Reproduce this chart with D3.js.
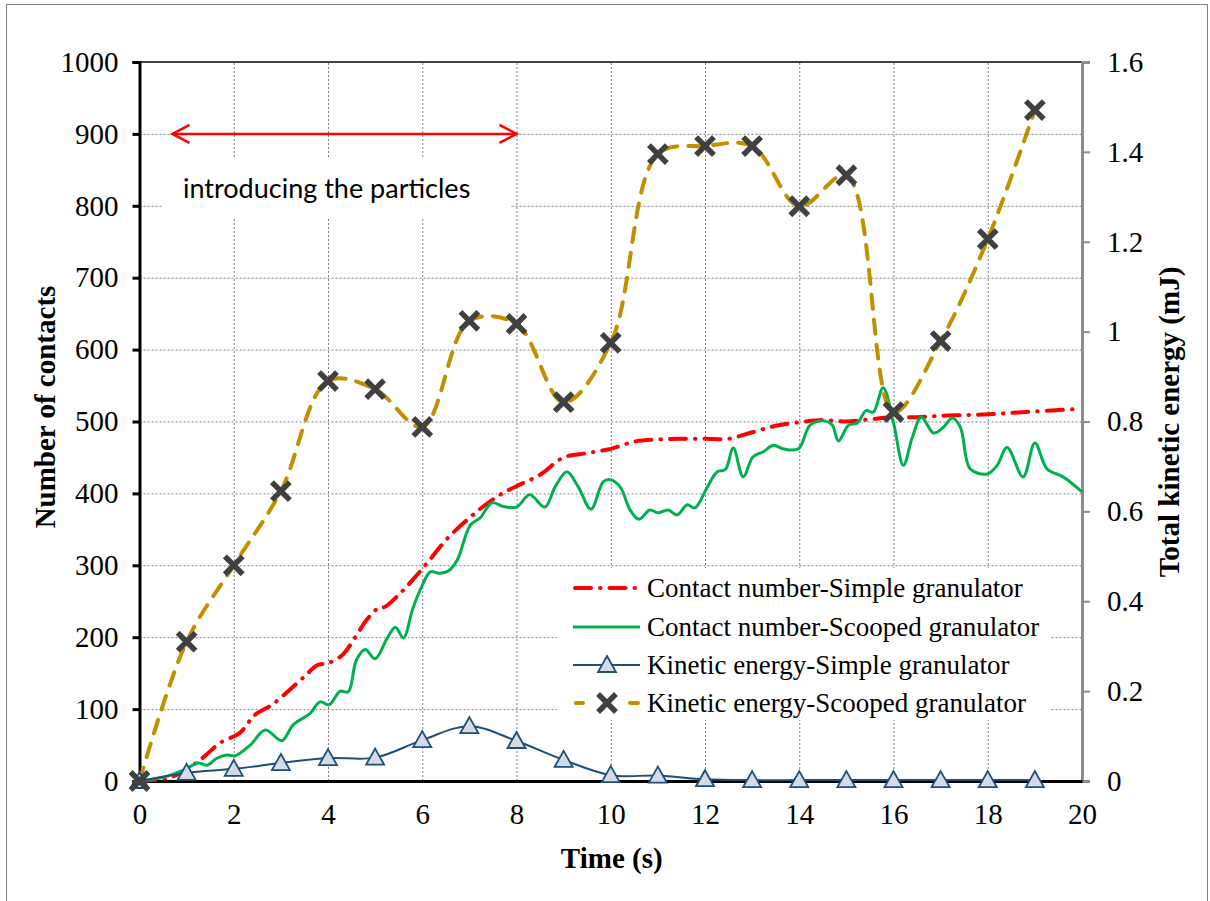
<!DOCTYPE html>
<html><head><meta charset="utf-8">
<script src="https://cdn.jsdelivr.net/npm/d3@7"></script>
<style>body{margin:0;background:#fff} svg{display:block}</style>
</head><body>
<svg id="chart" width="1210" height="901"></svg>
<script>
// ---------- data ----------
const timeTicks = [0,2,4,6,8,10,12,14,16,18,20];
const contactTicks = [0,100,200,300,400,500,600,700,800,900,1000];
const energyTicks = [0,0.2,0.4,0.6,0.8,1,1.2,1.4,1.6];

const seriesNames = [
  "Contact number-Simple granulator",
  "Contact number-Scooped granulator",
  "Kinetic energy-Simple granulator",
  "Kinetic energy-Scooped granulator"
];

const simpleContactTime  = [0,0.65,1.07,1.39,1.71,2.13,2.45,2.81,3.19,3.51,3.77,4.0,4.3,4.57,4.83,5.1,5.2,5.53,5.8,6.14,6.5,7.0,7.4,7.75,8.0,8.5,9.0,9.5,10.0,10.5,11.0,11.5,12.0,12.5,13.0,13.5,14.0,14.5,15.0,15.5,16.0,16.5,17.0,17.5,18.0,18.5,19.0,19.8];
const simpleContactValue = [0,5,19,35,53,67,92,106,127,146,161,164,175,199,225,242,242,261,280,306,335,366,387,402,410,426,450,456,462,472,475,476,476,476,485,494,499,502,500,503,506,506,508,509,510,512,514,517];

const scoopedContactTime  = [0,0.5,0.93,1.25,1.43,1.65,1.86,2.03,2.35,2.67,3.02,3.26,3.62,3.83,4.02,4.26,4.43,4.6,4.79,5.0,5.26,5.43,5.6,5.8,6.0,6.17,6.36,6.55,6.74,7.02,7.23,7.48,7.71,8.0,8.28,8.6,8.82,9.07,9.31,9.58,9.84,9.99,10.2,10.41,10.6,10.83,11.0,11.22,11.41,11.62,11.79,12.05,12.26,12.43,12.6,12.81,13.02,13.24,13.45,13.66,13.98,14.23,14.51,14.7,14.83,15.05,15.23,15.42,15.57,15.78,16.0,16.21,16.4,16.59,16.85,17.06,17.25,17.42,17.63,17.99,18.2,18.41,18.75,19.0,19.26,19.6,20.0];
const scoopedContactValue = [0,5,15,25,22,32,36,35,50,71,56,78,94,110,106,125,124,168,183,170,199,214,199,240,272,291,289,292,307,356,366,387,382,381,398,381,409,430,409,378,416,419,409,377,364,377,373,377,370,384,380,409,430,433,463,423,451,458,467,462,462,495,501,495,473,495,498,515,513,547,498,439,478,506,484,492,505,492,434,427,439,464,423,470,434,423,402];

const energyTime = [0,1,2,3,4,5,6,7,8,9,10,11,12,13,14,15,16,17,18,19];
const simpleEnergy  = [0,0.018,0.027,0.04,0.051,0.052,0.091,0.122,0.089,0.047,0.013,0.012,0.004,0.002,0.002,0.002,0.002,0.002,0.002,0.002];
const scoopedEnergy = [0,0.31,0.48,0.645,0.89,0.872,0.788,1.024,1.017,0.843,0.975,1.395,1.413,1.413,1.279,1.348,0.821,0.979,1.206,1.493];

const annotationText = "introducing the particles";
const xTitle = "Time (s)";
const yLeftTitle = "Number of contacts";
const yRightTitle = "Total kinetic energy (mJ)";

// ---------- layout ----------
const svg = d3.select("#chart");
const L = 139.5, R = 1082, T = 62, B = 781;
const x  = d3.scaleLinear().domain([0,20]).range([L,R]);
const yL = d3.scaleLinear().domain([0,1000]).range([B,T]);
const yR = d3.scaleLinear().domain([0,1.6]).range([B,T]);
const serif = "'Liberation Serif', 'Times New Roman', serif";

const C = {
  red: "#ff0000", green: "#00b050", blue: "#1f4e79", triFill: "#d4dbe6",
  gold: "#c09000", xmark: "#404040", grid: "#7f7f7f"
};

// outer frame
svg.append("rect").attr("x",6.5).attr("y",4.5).attr("width",1201).attr("height",905)
  .attr("fill","#fff").attr("stroke","#808080").attr("stroke-width",1);

// gridlines
const grid = svg.append("g");
grid.append("g").attr("transform",`translate(0,${B})`)
  .call(d3.axisBottom(x).tickValues(timeTicks.filter(t=>t>0&&t<20)).tickSize(-(B-T)).tickFormat(""))
  .call(g=>g.select(".domain").remove())
  .selectAll("line").attr("stroke",C.grid).attr("stroke-dasharray","2,2").attr("stroke-width",1);
grid.append("g").attr("transform",`translate(${L},0)`)
  .call(d3.axisLeft(yL).tickValues(contactTicks.filter(t=>t>0&&t<1000)).tickSize(-(R-L)).tickFormat(""))
  .call(g=>g.select(".domain").remove())
  .selectAll("line").attr("stroke",C.grid).attr("stroke-dasharray","2,2").attr("stroke-width",1);

// annotation box (white) + text + arrow
svg.append("rect").attr("x",162).attr("y",158).attr("width",348).attr("height",60).attr("fill","#fff");
svg.append("text").attr("x",183).attr("y",198)
  .style("font-family","Lato, 'Open Sans', sans-serif").style("font-size","27px")
  .attr("fill","#000").text(annotationText);
const ay = yL(900);
const ax1 = x(0.7), ax2 = x(8);
svg.append("line").attr("x1",ax1).attr("x2",ax2).attr("y1",ay).attr("y2",ay)
  .attr("stroke",C.red).attr("stroke-width",2.5);
svg.append("path").attr("d",`M${ax1+17},${ay-9}L${ax1},${ay}L${ax1+17},${ay+9}`)
  .attr("fill","none").attr("stroke",C.red).attr("stroke-width",2.5);
svg.append("path").attr("d",`M${ax2-17},${ay-9}L${ax2},${ay}L${ax2-17},${ay+9}`)
  .attr("fill","none").attr("stroke",C.red).attr("stroke-width",2.5);

// top border
svg.append("line").attr("x1",L).attr("x2",R).attr("y1",T).attr("y2",T).attr("stroke","#404040").attr("stroke-width",2);

function styleTickText(g){
  g.attr("font-family",serif).attr("font-size",29);
  g.selectAll("text").style("font-family",serif).style("font-size","29px").attr("fill","#000");
}

// right axis
const rAxis = svg.append("g").attr("transform",`translate(${R},0)`)
  .call(d3.axisRight(yR).tickValues(energyTicks).tickSize(8).tickPadding(17)
    .tickFormat(d=>d3.format("~g")(d)));
rAxis.select(".domain").attr("stroke","#8c8c8c").attr("stroke-width",3);
rAxis.selectAll(".tick line").attr("stroke","#8c8c8c").attr("stroke-width",2);
styleTickText(rAxis);

// left axis
const lAxis = svg.append("g").attr("transform",`translate(${L},0)`)
  .call(d3.axisLeft(yL).tickValues(contactTicks).tickSize(7).tickPadding(14).tickFormat(d3.format("d")));
lAxis.select(".domain").attr("stroke","#000").attr("stroke-width",3);
lAxis.selectAll(".tick line").attr("stroke","#000").attr("stroke-width",3);
styleTickText(lAxis);

// bottom axis
const bAxis = svg.append("g").attr("transform",`translate(0,${B})`)
  .call(d3.axisBottom(x).tickValues(timeTicks).tickSize(0).tickPadding(22).tickFormat(d3.format("d")));
bAxis.select(".domain").attr("stroke","#000").attr("stroke-width",3);
styleTickText(bAxis);

// titles
function title(sel){
  return sel.attr("text-anchor","middle").style("font-family",serif).style("font-weight","bold")
    .style("font-size","29px").attr("fill","#000");
}
title(svg.append("text").attr("x",(L+R)/2 + 1).attr("y",868)).text(xTitle);
title(svg.append("text").attr("transform",`translate(55,407) rotate(-90)`)).text(yLeftTitle);
title(svg.append("text").attr("transform",`translate(1179,422) rotate(-90)`)).text(yRightTitle);

// ---------- series ----------
const lineC = d3.line().curve(d3.curveCatmullRom.alpha(0.5));
const redPts = simpleContactTime.map((t,i)=>[x(t), yL(simpleContactValue[i])]);
const greenPts = scoopedContactTime.map((t,i)=>[x(t), yL(scoopedContactValue[i])]);
const bluePts = energyTime.map((t,i)=>[x(t), yR(simpleEnergy[i])]);
const goldPts = energyTime.map((t,i)=>[x(t), yR(scoopedEnergy[i])]);

svg.append("path").attr("d",lineC(redPts)).attr("fill","none").attr("stroke",C.red)
  .attr("stroke-width",4).attr("stroke-linecap","round").attr("stroke-dasharray","16,9,0.5,9");
svg.append("path").attr("d",lineC(greenPts)).attr("fill","none").attr("stroke",C.green)
  .attr("stroke-width",3);
svg.append("path").attr("d",lineC(bluePts)).attr("fill","none").attr("stroke",C.blue)
  .attr("stroke-width",2);
svg.append("path").attr("d",lineC(goldPts)).attr("fill","none").attr("stroke",C.gold)
  .attr("stroke-width",4).attr("stroke-linecap","round").attr("stroke-dasharray","14,11");

function triangle(g, cx, cy){
  g.append("path").attr("d",`M${cx},${cy-9}L${cx+9},${cy+7}L${cx-9},${cy+7}Z`)
    .attr("fill",C.triFill).attr("stroke",C.blue).attr("stroke-width",1.8);
}
function xmark(g, cx, cy){
  const s = 7;
  g.append("path").attr("d",`M${cx-s},${cy-s}L${cx+s},${cy+s}M${cx+s},${cy-s}L${cx-s},${cy+s}`)
    .attr("stroke",C.xmark).attr("stroke-width",5.5).attr("stroke-linecap","square").attr("fill","none");
}
const mg = svg.append("g");
bluePts.forEach(p=>triangle(mg,p[0],p[1]));
const xg = svg.append("g");
goldPts.forEach(p=>xmark(xg,p[0],p[1]));

// ---------- legend ----------
svg.append("rect").attr("x",557).attr("y",568).attr("width",493).attr("height",152).attr("fill","#fff");
const legY = [588,627,665,703];
const lg = svg.append("g");
seriesNames.forEach((n,i)=>{
  lg.append("text").attr("x",647).attr("y",legY[i]+9).style("font-family",serif)
    .style("font-size","27px").attr("fill","#000").text(n);
});
lg.append("path").attr("d",`M575,${legY[0]}H638`).attr("stroke",C.red).attr("stroke-width",4)
  .attr("stroke-linecap","round").attr("stroke-dasharray","16,9,0.5,9").attr("fill","none");
lg.append("path").attr("d",`M573,${legY[1]}H640`).attr("stroke",C.green).attr("stroke-width",3).attr("fill","none");
lg.append("path").attr("d",`M573,${legY[2]}H640`).attr("stroke",C.blue).attr("stroke-width",2).attr("fill","none");
triangle(lg,607,legY[2]);
lg.append("path").attr("d",`M576,${legY[3]}H583M630,${legY[3]}H638`).attr("stroke",C.gold).attr("stroke-width",4)
  .attr("stroke-linecap","round").attr("fill","none");
xmark(lg,607,legY[3]);
</script>
</body></html>
